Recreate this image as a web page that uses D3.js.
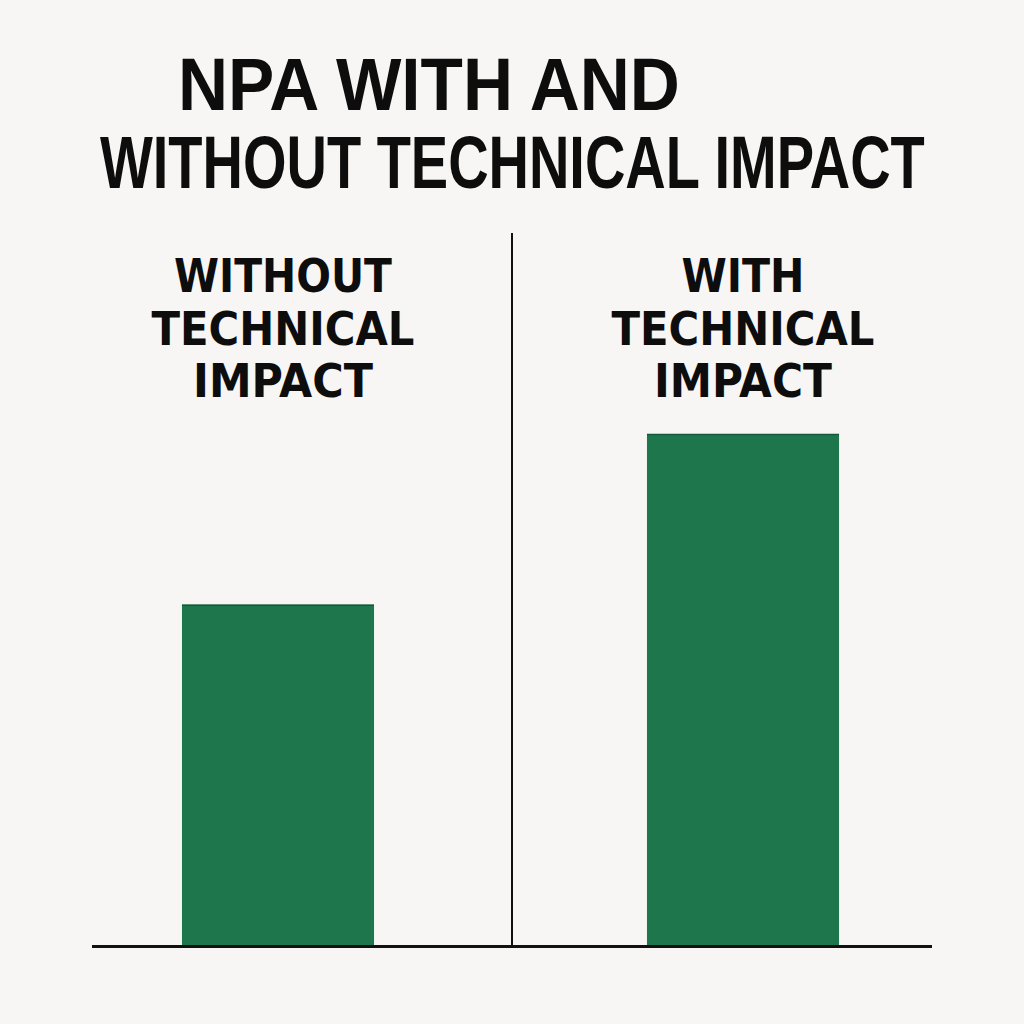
<!DOCTYPE html>
<html>
<head>
<meta charset="utf-8">
<script src="https://cdn.jsdelivr.net/npm/d3@7"></script>
<style>
  html, body { margin: 0; padding: 0; background: #f7f6f4; }
  svg { display: block; }
</style>
</head>
<body>
<svg id="chart" width="1024" height="1024"></svg>
<script>
// ---- data ----
const categories = ["WITHOUT TECHNICAL IMPACT", "WITH TECHNICAL IMPACT"];
const categoryLabelLines = [
  ["WITHOUT", "TECHNICAL", "IMPACT"],
  ["WITH", "TECHNICAL", "IMPACT"]
];
const npaValues = [2.0, 3.0];
const titleLines = ["NPA WITH AND", "WITHOUT TECHNICAL IMPACT"];

// ---- drawing ----
const svg = d3.select("#chart");
svg.append("rect").attr("width", 1024).attr("height", 1024).attr("fill", "#f7f6f4");

const baseY = 946;
const x = d3.scaleBand()
  .domain(categories)
  .range([45.5, 975.5])
  .paddingInner(0.587)
  .paddingOuter(0.2935);

const y = d3.scaleLinear()
  .domain([0, 3.0])
  .range([baseY, 434]);

// bars
svg.selectAll("rect.bar")
  .data(npaValues)
  .enter().append("rect")
  .attr("class", "bar")
  .attr("x", (d, i) => x(categories[i]))
  .attr("width", x.bandwidth())
  .attr("y", d => y(d))
  .attr("height", d => baseY - y(d))
  .attr("fill", "#1e774c");

// darker top edge
svg.selectAll("line.top")
  .data(npaValues)
  .enter().append("line")
  .attr("x1", (d, i) => x(categories[i]))
  .attr("x2", (d, i) => x(categories[i]) + x.bandwidth())
  .attr("y1", d => y(d) + 0.5)
  .attr("y2", d => y(d) + 0.5)
  .attr("stroke", "#155a38")
  .attr("stroke-width", 1.5);

// divider
svg.append("line")
  .attr("x1", 512).attr("x2", 512)
  .attr("y1", 233).attr("y2", baseY)
  .attr("stroke", "#111").attr("stroke-width", 2);

// baseline axis
svg.append("line")
  .attr("x1", 92).attr("x2", 932)
  .attr("y1", baseY + 0.5).attr("y2", baseY + 0.5)
  .attr("stroke", "#111").attr("stroke-width", 3);

// helper: place text fitted to a target width with horizontal scaling
function fittedText(str, left, baseline, width, size, family, anchorCenter) {
  const g = svg.append("g");
  const t = g.append("text")
    .attr("x", 0).attr("y", 0)
    .attr("font-family", family)
    .attr("font-weight", "bold")
    .attr("font-size", size)
    .attr("fill", "#0d0d0d")
    .text(str);
  const natural = t.node().getComputedTextLength();
  const sx = width / natural;
  const x0 = anchorCenter ? left - width / 2 : left;
  g.attr("transform", `translate(${x0},${baseline}) scale(${sx},1)`);
  return g;
}

// category labels
const labelLineWidths = [[218, 263, 180], [123, 263, 178]];
const labelBaselines = [292, 345, 397];
categoryLabelLines.forEach((lines, ci) => {
  const cx = x(categories[ci]) + x.bandwidth() / 2 + (ci === 0 ? 5 : 0);
  lines.forEach((t, li) => {
    fittedText(t, cx, labelBaselines[li], labelLineWidths[ci][li], 46,
      "DejaVu Sans, sans-serif", true);
  });
});

// title
const titlePos = [
  { x: 178, y: 110, w: 502 },
  { x: 100, y: 188, w: 825 }
];
titleLines.forEach((t, i) => {
  fittedText(t, titlePos[i].x, titlePos[i].y, titlePos[i].w, 74,
    "Liberation Sans, Arial, sans-serif", false);
});
</script>
</body>
</html>
